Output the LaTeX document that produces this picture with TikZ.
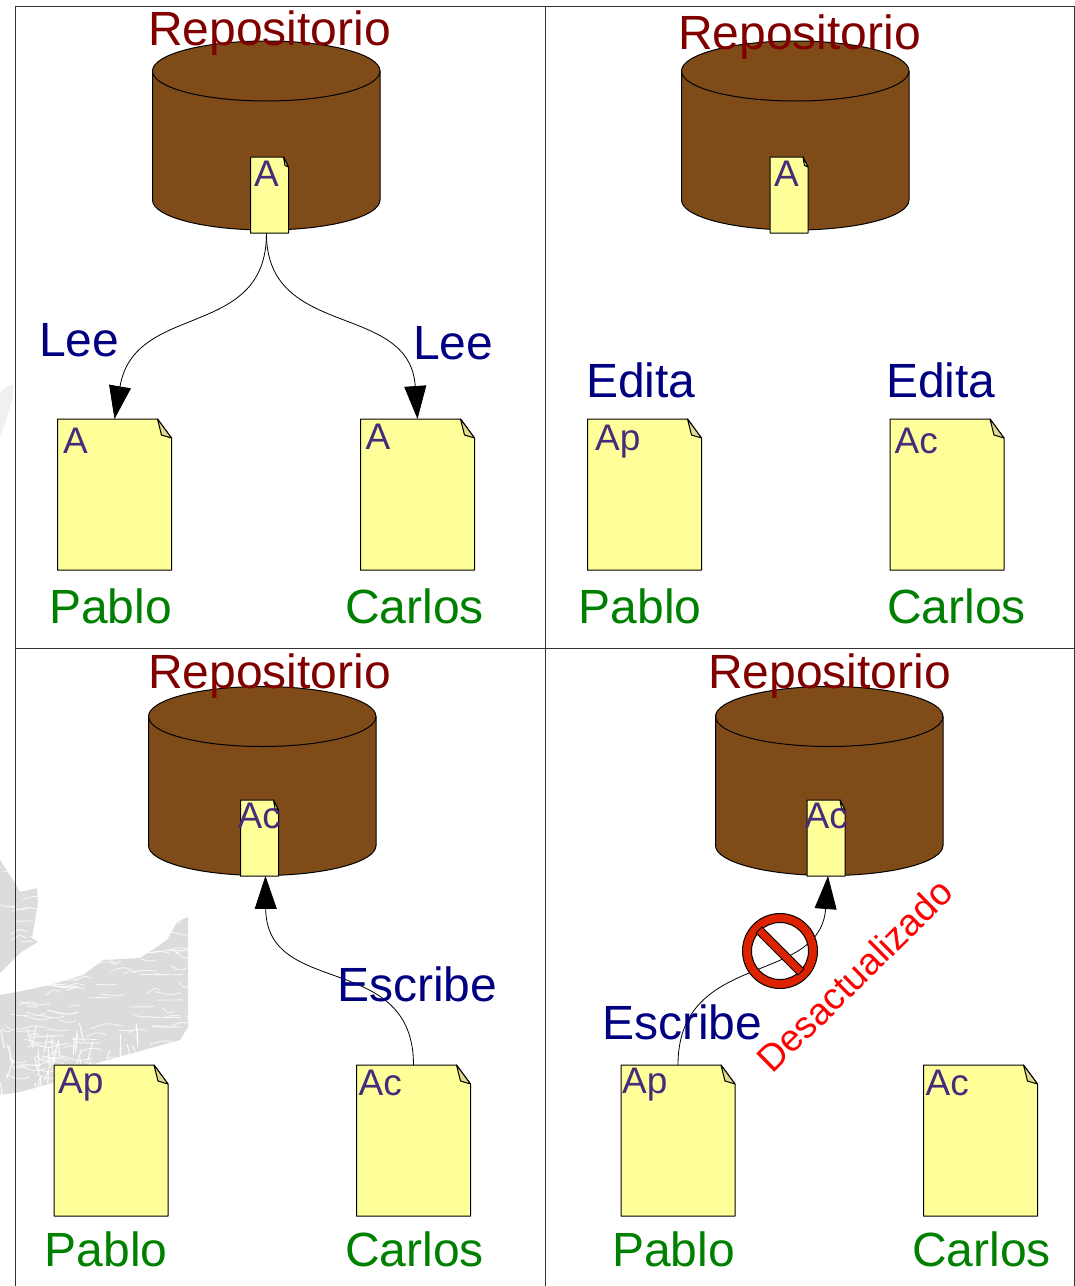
\documentclass[tikz,border=0pt]{standalone}
\usepackage{fontspec}
\setmainfont{Liberation Sans}
\usetikzlibrary{arrows.meta}
\definecolor{repoc}{HTML}{800000}
\definecolor{verbc}{HTML}{000080}
\definecolor{userc}{HTML}{008000}
\definecolor{labelc}{HTML}{482C7C}
\definecolor{brownc}{HTML}{7F4C19}
\definecolor{docc}{HTML}{FFFF99}
\definecolor{foldc}{HTML}{E0D98E}
\definecolor{markc}{HTML}{DD2200}
\definecolor{wmc}{HTML}{DCDCDC}
\definecolor{wmlight}{HTML}{F0F0F0}
\newcommand{\bigdoc}[3]{%
  \node[docbox,minimum width=114pt,minimum height=151pt] (#1) at (#2,#3) {};
  \draw[thinline,fill=docc] (#2,#3) -- (#2+100,#3) -- (#2+114,#3+19) -- (#2+114,#3+151) -- (#2,#3+151) -- cycle;
  \draw[thinline,fill=foldc] (#2+100,#3) -- (#2+114,#3+19) -- (#2+104,#3+16) -- cycle;}
\newcommand{\smalldoc}[3]{%
  \node[docbox,minimum width=38pt,minimum height=76pt] (#1) at (#2,#3) {};
  \draw[thinline,fill=docc] (#2,#3) -- (#2+33,#3) -- (#2+38,#3+10) -- (#2+38,#3+76) -- (#2,#3+76) -- cycle;
  \draw[thinline,fill=foldc] (#2+33,#3) -- (#2+38,#3+10) -- (#2+34.5,#3+8.5) -- cycle;}
% name, left x, ellipse centre y
\newcommand{\repo}[3]{%
  \node[inner sep=0pt,minimum width=227.5pt,minimum height=189pt,anchor=north west] (#1) at (#2,#3-30) {};
  \draw[thinline,fill=brownc] (#2,#3) -- (#2,#3+129) arc[start angle=180,end angle=360,x radius=113.75,y radius=-30] -- (#2+227.5,#3) arc[start angle=360,end angle=180,x radius=113.75,y radius=30] -- cycle;
  \draw[thinline] (#2,#3) arc[start angle=180,end angle=360,x radius=113.75,y radius=-30];}
\tikzset{
  x=1pt,y=-1pt,
  thinline/.style={draw=black,line width=1pt,line join=round},
  docbox/.style={inner sep=0pt,anchor=north west,outer sep=0pt},
  txt/.style={inner sep=0pt,anchor=base west,font=\fontsize{48}{50}\selectfont},
  repolabel/.style={txt,text=repoc},
  verb/.style={txt,text=verbc},
  user/.style={txt,text=userc},
  doclabel/.style={inner sep=0pt,anchor=base west,text=labelc,font=\fontsize{37}{40}\selectfont},
  flow/.style={draw=black,line width=0.8pt,-{Triangle[length=33pt,width=22pt,fill=black]}},
  gridline/.style={draw=black!80,line width=1pt}
}
\begin{document}
\begin{tikzpicture}
\useasboundingbox (0,0) rectangle (1075,1286);
% watermark
\fill[wmlight] (0,392) .. controls (5,388) and (9,385) .. (13,385) -- (13,397) .. controls (9,410) and (5,425) .. (0,437) -- cycle;
\begin{scope}
\clip (0,860) -- (15,883) -- (20,892) -- (37,888) -- (38,903) -- (32,938) -- (38,942) -- (20,953) -- (0,973) -- cycle
      (0,995) -- (17,992) -- (50,985) -- (83,975) -- (103,960) -- (140,958) -- (167,940) -- (177,922) -- (188,917)
      -- (188,1027) -- (180,1040) -- (133,1053) -- (83,1067) -- (53,1083) -- (20,1092) -- (0,1095) -- cycle;
\fill[wmc] (0,850) rectangle (190,1100);
\pgfmathsetseed{7}
\foreach \i in {1,...,220}{
  \pgfmathsetmacro{\xa}{rnd*190}
  \pgfmathsetmacro{\ya}{860+rnd*235}
  \pgfmathsetmacro{\dx}{8+rnd*24}
  \pgfmathsetmacro{\dy}{-5+rnd*10}
  \draw[white,opacity=0.75,line width=0.9pt] (\xa,\ya) .. controls +(\dx/2,\dy) and +(-\dx/2,\dy) .. +(\dx,\dy/2);
}
\foreach \i in {1,...,60}{
  \pgfmathsetmacro{\xa}{rnd*150}
  \pgfmathsetmacro{\ya}{1020+rnd*75}
  \pgfmathsetmacro{\dx}{-8+rnd*16}
  \draw[white,opacity=0.85,line width=1.1pt] (\xa,\ya) .. controls +(\dx/2,6) and +(-\dx/2,-6) .. +(\dx,18);
}
\end{scope}
% panel frame
\draw[gridline] (15.5,1286) -- (15.5,6) -- (1074.5,6) -- (1074.5,1286);
\draw[gridline] (545.5,6) -- (545.5,1286);
\draw[gridline] (15.5,648.5) -- (1074.5,648.5);

% panel 1
\repo{repoA}{152.5}{71}
\smalldoc{smallA}{250.5}{157}
\bigdoc{docA}{57.5}{419}
\bigdoc{docB}{360.5}{419}
\draw[flow] (repoA.south) ++(0,3) .. controls +(0,107) and +(20,-118) .. (docA.north);
\draw[flow] (repoA.south) ++(0,3) .. controls +(0,107) and +(-8,-118) .. (docB.north);
\node[repolabel] (t1) at (148,45) {Repositorio};
\node[doclabel] (l1) at (254,186) {A};
\node[doclabel] (l2) at (63,453) {A};
\node[doclabel] (l3) at (365.5,449) {A};
\node[verb] (v1) at (39,356) {Lee};
\node[verb] (v2) at (413,359) {Lee};
\node[user] (u1) at (49,623) {Pablo};
\node[user] (u2) at (345,623) {Carlos};

% panel 2
\repo{repoB}{681.5}{71}
\smalldoc{smallB}{770}{157}
\bigdoc{docC}{587.5}{419}
\bigdoc{docD}{890}{419}
\node[repolabel] (t2) at (678,49) {Repositorio};
\node[doclabel] (l4) at (774,186) {A};
\node[doclabel] (l5) at (595,450) {Ap};
\node[doclabel] (l6) at (894.5,453) {Ac};
\node[verb] (v3) at (586,397) {Edita};
\node[verb] (v4) at (886,397) {Edita};
\node[user] (u3) at (578.5,623) {Pablo};
\node[user] (u4) at (887,623) {Carlos};

% panel 3
\repo{repoC}{148.5}{716.5}
\smalldoc{smallC}{240.5}{800}
\bigdoc{docE}{54}{1065}
\bigdoc{docF}{356.5}{1065}
\draw[flow] (docF.north) .. controls +(0,-115) and +(1,123) .. ([xshift=3pt]repoC.south);
\node[repolabel] (t3) at (148,688) {Repositorio};
\node[doclabel] (l7) at (237.5,828) {Ac};
\node[doclabel] (l8) at (58,1093) {Ap};
\node[doclabel] (l9) at (358.5,1095) {Ac};
\node[verb] (v5) at (337,1001) {Escribe};
\node[user] (u5) at (44.5,1266) {Pablo};
\node[user] (u6) at (345,1266) {Carlos};

% panel 4
\repo{repoD}{715.5}{716.5}
\smalldoc{smallD}{807}{800}
\bigdoc{docG}{621}{1065}
\bigdoc{docH}{923.5}{1065}
\draw[flow] (docG.north) .. controls +(0,-115) and +(-8,110) .. ([xshift=2pt]smallD.south);
% prohibition sign
\node[inner sep=0pt,minimum size=76pt,circle] (nosign) at (780,951) {};
\draw[thinline,fill=markc,even odd rule] (nosign) circle[radius=37.5] (nosign) circle[radius=28.5];
\draw[thinline,fill=markc] (756,933) -- (762,927) -- (804,969) -- (798,975) -- cycle;
\node[repolabel] (t4) at (708,688) {Repositorio};
\node[doclabel] (l10) at (804.5,828) {Ac};
\node[doclabel] (l11) at (622,1093) {Ap};
\node[doclabel] (l12) at (925.5,1095) {Ac};
\node[verb] (v6) at (602,1039) {Escribe};
\node[user] (u7) at (612,1266) {Pablo};
\node[user] (u8) at (912,1266) {Carlos};
\node[inner sep=0pt,text=red,rotate=44.5,font=\fontsize{37.5}{42}\selectfont] (warn) at (854.5,975.5) {Desactualizado};
\end{tikzpicture}
\end{document}
